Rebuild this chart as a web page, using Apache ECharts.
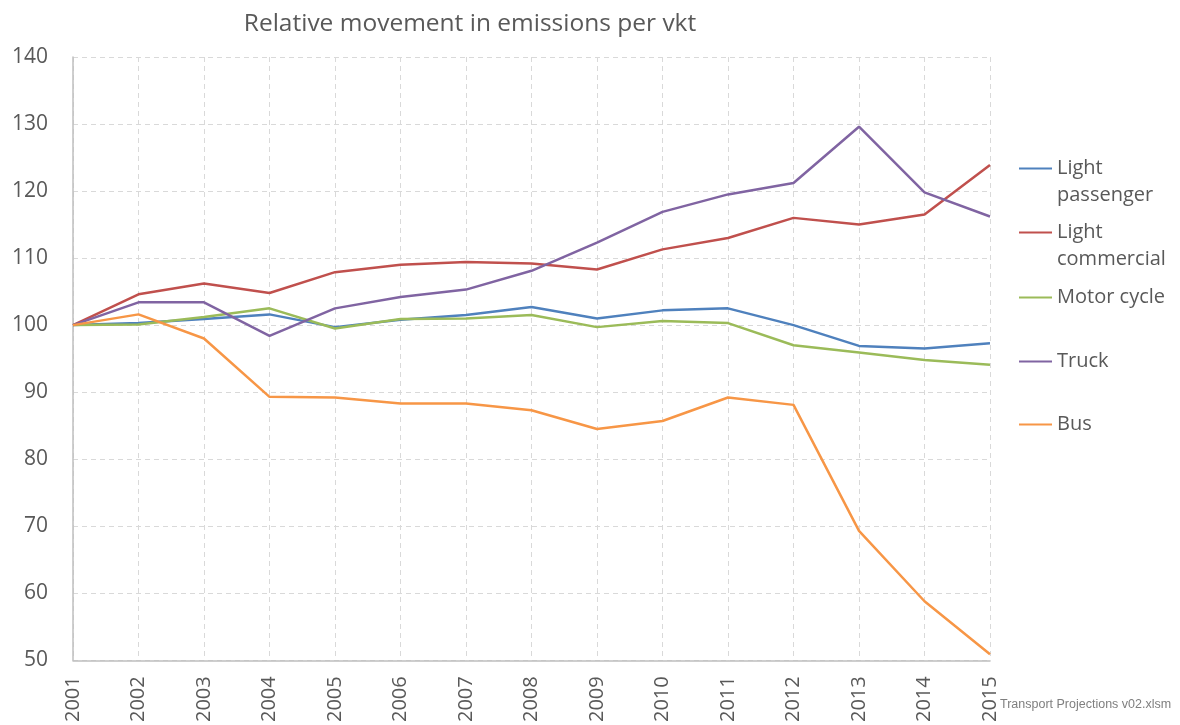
<!DOCTYPE html>
<html>
<head>
<meta charset="utf-8">
<title>Relative movement in emissions per vkt</title>
<script src="https://cdn.jsdelivr.net/npm/echarts@6/dist/echarts.min.js"></script>
<style>
  html, body { margin: 0; padding: 0; background: #fff; }
  #main { width: 1180px; height: 725px; }
</style>
</head>
<body>
<div id="main"></div>
<script>
// years on the x axis
var years = ['2001', '2002', '2003', '2004', '2005', '2006', '2007', '2008',
  '2009', '2010', '2011', '2012', '2013', '2014', '2015'];

// index values (2001 = 100)
var lightPassenger = [100, 100.3, 100.9, 101.6, 99.7, 100.8, 101.5, 102.7, 101.0, 102.2, 102.5, 100.0, 96.9, 96.5, 97.3];
var lightCommercial = [100, 104.6, 106.2, 104.8, 107.9, 109.0, 109.4, 109.2, 108.3, 111.3, 113.0, 116.0, 115.0, 116.5, 123.9];
var motorCycle = [100, 100.1, 101.2, 102.5, 99.5, 100.9, 101.0, 101.5, 99.7, 100.6, 100.3, 97.0, 95.9, 94.8, 94.1];
var truck = [100, 103.4, 103.4, 98.4, 102.5, 104.2, 105.3, 108.1, 112.3, 116.9, 119.5, 121.2, 129.6, 119.8, 116.2];
var bus = [100, 101.6, 98.0, 89.3, 89.2, 88.3, 88.3, 87.3, 84.5, 85.7, 89.2, 88.1, 69.3, 58.8, 50.9];

var seriesNames = ['Light passenger', 'Light commercial', 'Motor cycle', 'Truck', 'Bus'];
var seriesData = [lightPassenger, lightCommercial, motorCycle, truck, bus];
var colors = ['#4f81bd', '#c0504d', '#9bbb59', '#8064a2', '#f79646'];

var txt = '#595959';
var fontFam = '"Open Sans", "Noto Sans", sans-serif';

// legend labels: two-line items get an empty line on top so the icon sits beside the first line
var legendLabels = {
  'Light passenger': '{e| }\n{t|Light}\n{t|passenger}',
  'Light commercial': '{e| }\n{t|Light}\n{t|commercial}',
  'Motor cycle': '{t|Motor cycle}',
  'Truck': '{t|Truck}',
  'Bus': '{t|Bus}'
};
var legendTops = [128, 192, 284, 348, 411];

var chart = echarts.init(document.getElementById('main'));

var legends = seriesNames.map(function (name, i) {
  return {
    data: [name],
    left: 1019,
    top: legendTops[i],
    padding: 0,
    itemWidth: 33,
    itemHeight: 10,
    itemGap: 0,
    selectedMode: false,
    icon: 'path://M0,4 L33,4 L33,6 L0,6 Z',
    formatter: function (n) { return legendLabels[n]; },
    textStyle: {
      color: txt,
      fontFamily: fontFam,
      fontSize: 20,
      rich: {
        e: { height: 27, lineHeight: 27, fontSize: 20 },
        t: { height: 27, lineHeight: 27, fontSize: 20, color: txt, fontFamily: fontFam }
      }
    }
  };
});

var option = {
  backgroundColor: '#fff',
  animation: false,
  color: colors,
  title: {
    text: 'Relative movement in emissions per vkt',
    left: 465,
    top: 7,
    textAlign: 'center',
    textStyle: { color: txt, fontSize: 24.5, fontWeight: 'normal', fontFamily: fontFam }
  },
  legend: legends,
  grid: { left: 73, right: 190, top: 57, bottom: 63, containLabel: false },
  xAxis: {
    type: 'category',
    data: years,
    boundaryGap: false,
    axisLine: { show: true, lineStyle: { color: '#bfbfbf', width: 1.5 } },
    axisTick: { show: false },
    axisLabel: {
      rotate: 90,
      color: txt,
      fontSize: 20,
      fontFamily: fontFam,
      margin: 16
    },
    splitLine: { show: true, lineStyle: { color: '#d9d9d9', type: [5, 4], width: 1 } }
  },
  yAxis: {
    type: 'value',
    min: 50,
    max: 140,
    interval: 10,
    axisLine: { show: true, lineStyle: { color: '#bfbfbf', width: 1.5 } },
    axisTick: { show: false },
    axisLabel: { color: txt, fontSize: 21, fontFamily: fontFam, margin: 25 },
    splitLine: { show: true, lineStyle: { color: '#d9d9d9', type: [5, 4], width: 1 } }
  },
  series: seriesNames.map(function (name, i) {
    return {
      name: name,
      type: 'line',
      data: seriesData[i],
      symbol: 'none',
      lineStyle: { width: 2.5, color: colors[i] },
      itemStyle: { color: colors[i] }
    };
  }),
  graphic: [{
    type: 'text',
    left: 1000,
    top: 698,
    style: {
      text: 'Transport Projections v02.xlsm',
      fill: '#7f7f7f',
      fontSize: 12.5,
      fontFamily: '"Liberation Sans Narrow", "Liberation Sans", sans-serif'
    }
  }]
};

chart.setOption(option);
</script>
</body>
</html>
